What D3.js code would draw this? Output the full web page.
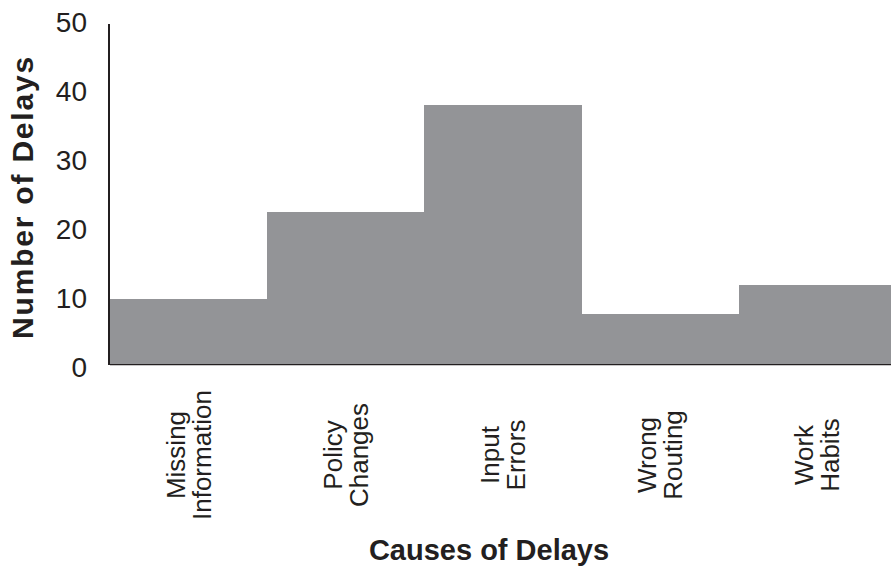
<!DOCTYPE html>
<html>
<head>
<meta charset="utf-8">
<script src="https://cdn.jsdelivr.net/npm/d3@7"></script>
<style>
  html, body { margin: 0; padding: 0; background: #fff; }
  svg { display: block; }
  text { font-family: "Liberation Sans", Arial, Helvetica, sans-serif; fill: #231f20; }
</style>
</head>
<body>
<svg id="chart" width="891" height="570"></svg>
<script>
const categories = [["Missing", "Information"], ["Policy", "Changes"], ["Input", "Errors"], ["Wrong", "Routing"], ["Work", "Habits"]];
const values = [9.4, 22.0, 37.6, 7.2, 11.4];
const yTicks = [0, 10, 20, 30, 40, 50];
const yTitle = "Number of Delays";
const xTitle = "Causes of Delays";

(function () {
const svg = d3.select("#chart");
const mLeft = 110, mRight = 896, mTop = 19, mBottom = 364;

const x = d3.scaleBand().domain(d3.range(categories.length)).range([mLeft, mRight]).padding(0);
const y = d3.scaleLinear().domain([0, 50]).range([mBottom, mTop]);

// baseline
svg.append("line").attr("x1", mLeft).attr("x2", 891).attr("y1", mBottom + 0.5).attr("y2", mBottom + 0.5)
  .attr("stroke", "#231f20").attr("stroke-width", 1.5);

// bars
svg.append("g").attr("shape-rendering", "crispEdges").selectAll("rect").data(values).join("rect")
  .attr("x", (d, i) => Math.round(x(i)))
  .attr("width", (d, i) => Math.round(x(i) + x.bandwidth()) - Math.round(x(i)))
  .attr("y", d => y(d))
  .attr("height", d => y(0) - y(d))
  .attr("fill", "#939497");

// y axis
const yAxis = d3.axisLeft(y).tickValues(yTicks).tickSize(0).tickPadding(23);
const gy = svg.append("g").attr("transform", `translate(${mLeft},0)`).call(yAxis);
gy.select(".domain").remove();
gy.selectAll("text").attr("font-size", 28).attr("fill", "#231f20")
  .attr("font-family", "Liberation Sans, Arial, sans-serif").attr("dy", "0.45em");
svg.append("line").attr("x1", 109).attr("x2", 109).attr("y1", 24).attr("y2", mBottom + 1)
  .attr("stroke", "#231f20").attr("stroke-width", 2);

// x tick labels (rotated, two lines)
const xl = svg.append("g");
categories.forEach((lines, i) => {
  const cx = x(i) + x.bandwidth() / 2;
  const cy = 455;
  const t = xl.append("text")
    .attr("transform", `translate(${cx},${cy}) rotate(-90)`)
    .attr("text-anchor", "middle")
    .attr("font-size", 26);
  lines.forEach((s, j) => {
    t.append("tspan").attr("x", 0).attr("y", (j - 0.5) * 26 + 9).text(s);
  });
});

// titles
svg.append("text").attr("x", 489).attr("y", 560).attr("text-anchor", "middle")
  .attr("font-size", 29).attr("font-weight", "bold").text(xTitle);
svg.append("text").attr("transform", "translate(33,197) rotate(-90)").attr("text-anchor", "middle")
  .attr("font-size", 30).attr("letter-spacing", 1.8).attr("font-weight", "bold").text(yTitle);
})();
</script>
</body>
</html>
